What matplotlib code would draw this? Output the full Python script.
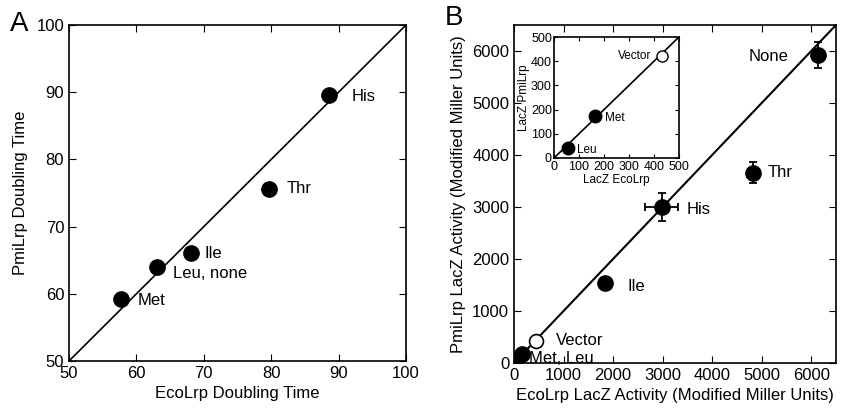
import matplotlib.pyplot as plt

plt.rcParams['font.family'] = ['Liberation Sans', 'DejaVu Sans']

# Panel A: doubling times
a_labels = ["Met", "Leu, none", "Ile", "Thr", "His"]
a_eco = [57.7, 63.1, 68.1, 79.6, 88.6]
a_pmi = [59.2, 64.0, 66.0, 75.6, 89.6]

# Panel B: LacZ activity (filled points)
b_labels = ["Met, Leu", "Ile", "His", "Thr", "None"]
b_eco = [170, 1840, 2980, 4820, 6130]
b_pmi = [170, 1530, 3000, 3660, 5930]
b_xerr = [0, 0, 330, 0, 0]
b_yerr = [0, 0, 270, 200, 250]
b_leu = (50, 40)
b_vector = (450, 430)

# Inset
in_labels = ["Leu", "Met"]
in_eco = [55, 165]
in_pmi = [40, 172]
in_vector = (430, 420)


def style_axes(ax, ticks, size=12):
    ax.set_xticks(ticks)
    ax.set_yticks(ticks)
    ax.tick_params(direction="in", top=True, right=True, length=5, labelsize=size)
    for s in ax.spines.values():
        s.set_linewidth(1.2)


fig = plt.figure(figsize=(8.43, 4.15), dpi=100)

# ---- Panel A ----
axA = fig.add_axes([69 / 843, 1 - 361 / 415, 337 / 843, 336 / 415])
axA.plot([50, 100], [50, 100], color="black", lw=1.2)
axA.plot(a_eco, a_pmi, "o", color="black", ms=11)
offsets = [(12, -1), (11, -5), (10, 0), (13, 0), (16, -1)]
for x, y, lab, off in zip(a_eco, a_pmi, a_labels, offsets):
    axA.annotate(lab, (x, y), xytext=off, textcoords="offset points",
                 fontsize=12, va="center", ha="left")
axA.set_xlim(50, 100)
axA.set_ylim(50, 100)
style_axes(axA, range(50, 101, 10))
axA.set_xlabel("EcoLrp Doubling Time", fontsize=12, labelpad=4)
axA.set_ylabel("PmiLrp Doubling Time", fontsize=12, labelpad=6)
fig.text(10 / 843, 1 - 24 / 415, "A", fontsize=20, va="center")

# ---- Panel B ----
axB = fig.add_axes([514 / 843, 1 - 363 / 415, 322 / 843, 338 / 415])
axB.plot([0, 6500], [0, 6500], color="black", lw=1.5)
axB.errorbar(b_eco, b_pmi, xerr=b_xerr, yerr=b_yerr, fmt="o", color="black",
             ms=11, capsize=3, elinewidth=1.3, capthick=1.3)
axB.plot(*b_leu, "o", color="black", ms=11)
axB.plot(*b_vector, "o", mfc="white", mec="black", ms=10, mew=1.2)
b_off = [(5, -3), (16, -2), (18, -2), (11, 0), (-50, -1)]
for x, y, lab, off in zip(b_eco, b_pmi, b_labels, b_off):
    axB.annotate(lab, (x, y), xytext=off, textcoords="offset points",
                 fontsize=12, va="center", ha="left")
axB.annotate("Vector", b_vector, xytext=(14, 0), textcoords="offset points",
             fontsize=12, va="center", ha="left")
axB.set_xlim(0, 6500)
axB.set_ylim(0, 6500)
style_axes(axB, range(0, 6001, 1000))
axB.set_xlabel("EcoLrp LacZ Activity (Modified Miller Units)", fontsize=12, labelpad=4)
axB.set_ylabel("PmiLrp LacZ Activity (Modified Miller Units)", fontsize=12, labelpad=4)
fig.text(445 / 843, 1 - 18 / 415, "B", fontsize=20, va="center")

# ---- Inset ----
axI = fig.add_axes([554 / 843, 1 - 158 / 415, 125 / 843, 121 / 415])
axI.plot([0, 500], [0, 500], color="black", lw=1.2)
axI.plot(in_eco, in_pmi, "o", color="black", ms=9)
axI.plot(*in_vector, "o", mfc="white", mec="black", ms=8, mew=1.0)
for x, y, lab in zip(in_eco, in_pmi, in_labels):
    axI.annotate(lab, (x, y), xytext=(7, -1), textcoords="offset points",
                 fontsize=8.5, va="center", ha="left")
axI.annotate("Vector", in_vector, xytext=(-7, 0), textcoords="offset points",
             fontsize=8.5, va="center", ha="right")
axI.set_xlim(0, 500)
axI.set_ylim(0, 500)
style_axes(axI, range(0, 501, 100), size=9)
axI.tick_params(axis="x", length=3, pad=2)
axI.tick_params(axis="y", length=3, pad=1.5)
axI.set_xlabel("LacZ EcoLrp", fontsize=8.5, labelpad=1)
axI.set_ylabel("LacZ PmiLrp", fontsize=8.5, labelpad=1)

fig.savefig("out.png", dpi=100)
